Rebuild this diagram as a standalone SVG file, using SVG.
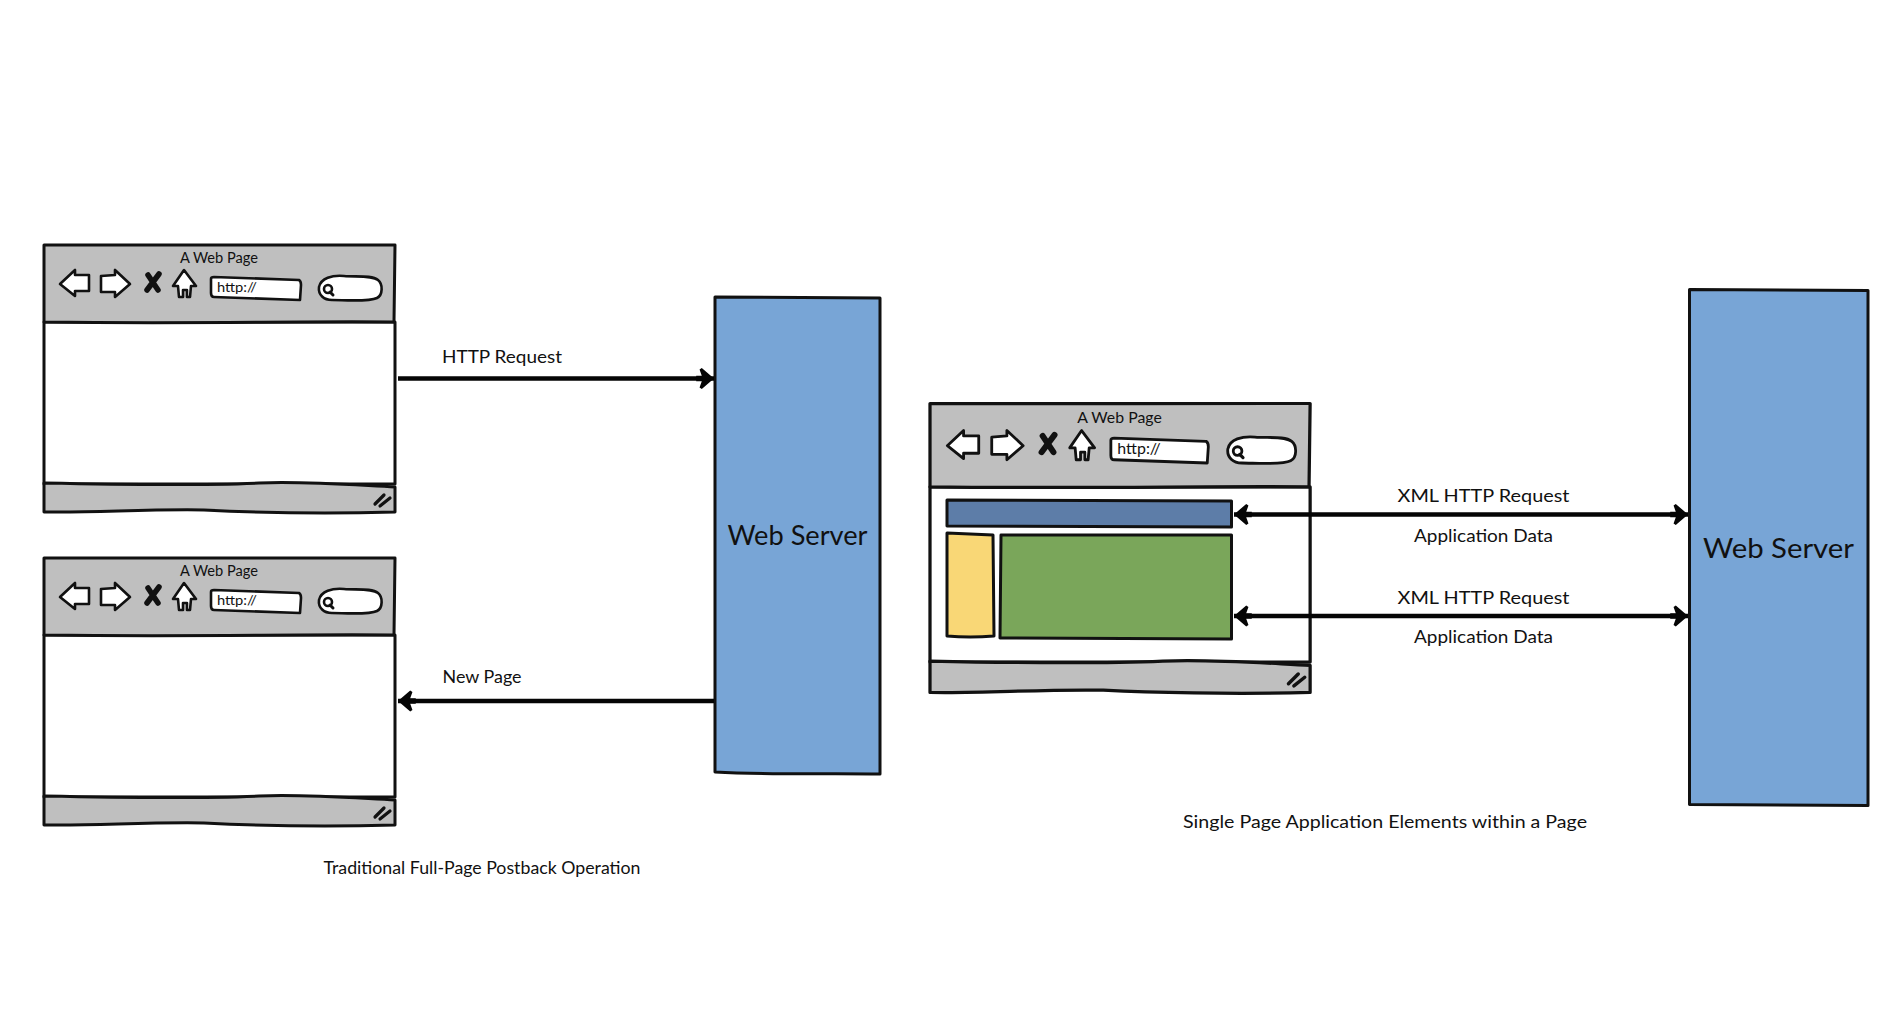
<svg xmlns="http://www.w3.org/2000/svg" xmlns:xlink="http://www.w3.org/1999/xlink" width="1898" height="1014" viewBox="0 0 1898 1014">
<style>
text{font-family:"Lato","Noto Sans",sans-serif;fill:#111;text-anchor:middle}
.lbl{font-size:18px}
.srv{font-size:26px}
.ttl{font-size:14.5px}
.url{font-size:13.5px;text-anchor:start}
.o{stroke:#111;stroke-width:3;stroke-linejoin:round;stroke-linecap:round}
.ic{fill:#fff;stroke:#111;stroke-width:2.6;stroke-linejoin:round;stroke-linecap:round}
.conn{fill:none;stroke:#050505;stroke-width:4.5}
</style>
<defs>
<marker id="head" markerUnits="userSpaceOnUse" markerWidth="20" markerHeight="26" viewBox="0 0 18 22" refX="16" refY="11" orient="auto-start-reverse">
<path d="M16,11 L5,1.500 L3,3 L5,8.500 L0,8.500 L0,13.500 L5,13.500 L3,19 L5,20.500 Z" fill="#050505"/>
</marker>
<g id="chrome">
<path class="o" fill="#fff" d="M0,77 H351 V239 H0 Z"/>
<path class="o" fill="#bfbfbf" d="M0,0 C100,-1 250,1 351,0 L350,77 C250,76 150,79 0,77 Z"/>
<path class="o" fill="#bfbfbf" d="M0,238 C90,240 170,240 215,238 C260,236 310,240 351,242 L351,267 C280,269 200,267 160,265 C100,264 50,268 0,267 Z"/>
<path class="ic" d="M16,39 L31,25 L31,30 L45,30 L45,46 L31,46 L31,51 Z"/>
<path class="ic" d="M86,39 L71,25 L71,30 L57,31 L57,47 L71,47 L71,52 Z"/>
<path d="M104,30 L114,45 M115,29 L103,45" fill="none" stroke="#111" stroke-width="5.500" stroke-linecap="round"/>
<path class="ic" d="M140,25 L129,41 L134,41 L135,52 L139,52 L139,45 L143,45 L143,52 L146,52 L147,41 L152,41 Z"/>
<path class="ic" d="M167,34 Q167,32 170,32 L255,35 Q257,36 257,40 L256,55 L170,52 Q167,52 167,48 Z"/>
<path class="ic" d="M275,42 C277,33 288,30 300,31 C312,32 328,30 334,35 C339,39 339,50 333,53 C325,57 300,55 288,55 C280,55 274,50 275,42 Z"/>
<circle cx="284" cy="44" r="4" fill="none" stroke="#111" stroke-width="2.600"/>
<path d="M286,47 L289,50" stroke="#111" stroke-width="3" stroke-linecap="round"/>
<path d="M331,259 L340,250 M336,261 L346,253" stroke="#111" stroke-width="3.200" stroke-linecap="round"/>
</g>
</defs>
<rect width="1898" height="1014" fill="#fff"/>

<g id="browser-1" transform="translate(44,245)">
<use xlink:href="#chrome" href="#chrome"/>
<text class="ttl" x="175" y="18" textLength="78" lengthAdjust="spacingAndGlyphs">A Web Page</text>
<text class="url" x="173" y="47" textLength="40" lengthAdjust="spacingAndGlyphs">http://</text>
</g>
<g id="browser-2" transform="translate(44,558)">
<use xlink:href="#chrome" href="#chrome"/>
<text class="ttl" x="175" y="18" textLength="78" lengthAdjust="spacingAndGlyphs">A Web Page</text>
<text class="url" x="173" y="47" textLength="40" lengthAdjust="spacingAndGlyphs">http://</text>
</g>
<g id="browser-3" transform="translate(930,403.500)">
<g transform="scale(1.083,1.082)"><use xlink:href="#chrome" href="#chrome"/>
<text class="ttl" x="175" y="18" textLength="78" lengthAdjust="spacingAndGlyphs">A Web Page</text>
<text class="url" x="173" y="47" textLength="40" lengthAdjust="spacingAndGlyphs">http://</text></g>
</g>
<g id="spa-header"><path class="o" fill="#5d7da8" d="M947,500 L1231.500,501 L1231.500,527 L947,526 Z"/></g>
<g id="spa-side"><path class="o" fill="#f9d776" d="M947,533 L993,535 L994,636 Q970,638 947,636 Z"/></g>
<g id="spa-main"><path class="o" fill="#7aa65a" d="M1001,535 L1231.500,535 L1231.500,639 L1000,638 Z"/></g>

<g id="server-1">
<path class="o" fill="#78a5d6" d="M715,297 L880,298 L880,774 C830,773 770,775 715,772 Z"/>
<text class="srv" x="797.500" y="545" textLength="140" lengthAdjust="spacingAndGlyphs">Web Server</text>
</g>
<g id="server-2">
<path class="o" fill="#78a5d6" d="M1689.500,289.500 L1868,290.500 L1868,805.500 L1689.500,804.500 Z"/>
<text class="srv" x="1778.500" y="557.500" textLength="151" lengthAdjust="spacingAndGlyphs">Web Server</text>
</g>

<g id="connectors">
<path class="conn" d="M398,378.500 H714" marker-end="url(#head)"/>
<path class="conn" d="M714,701 H398" marker-end="url(#head)"/>
<path class="conn" d="M1234,514.500 H1688" marker-start="url(#head)" marker-end="url(#head)"/>
<path class="conn" d="M1234,616 H1688" marker-start="url(#head)" marker-end="url(#head)"/>
</g>

<g id="labels">
<text class="lbl" x="502" y="362.500" textLength="120" lengthAdjust="spacingAndGlyphs">HTTP Request</text>
<text class="lbl" x="482" y="682.500" textLength="79" lengthAdjust="spacingAndGlyphs">New Page</text>
<text class="lbl" x="1483.500" y="502" textLength="172" lengthAdjust="spacingAndGlyphs">XML HTTP Request</text>
<text class="lbl" x="1483.500" y="542" textLength="139" lengthAdjust="spacingAndGlyphs">Application Data</text>
<text class="lbl" x="1483.500" y="603.500" textLength="172" lengthAdjust="spacingAndGlyphs">XML HTTP Request</text>
<text class="lbl" x="1483.500" y="643" textLength="139" lengthAdjust="spacingAndGlyphs">Application Data</text>
<text class="lbl" x="482" y="874" textLength="317" lengthAdjust="spacingAndGlyphs">Traditional Full-Page Postback Operation</text>
<text class="lbl" x="1385" y="828" textLength="404" lengthAdjust="spacingAndGlyphs">Single Page Application Elements within a Page</text>
</g>
</svg>
